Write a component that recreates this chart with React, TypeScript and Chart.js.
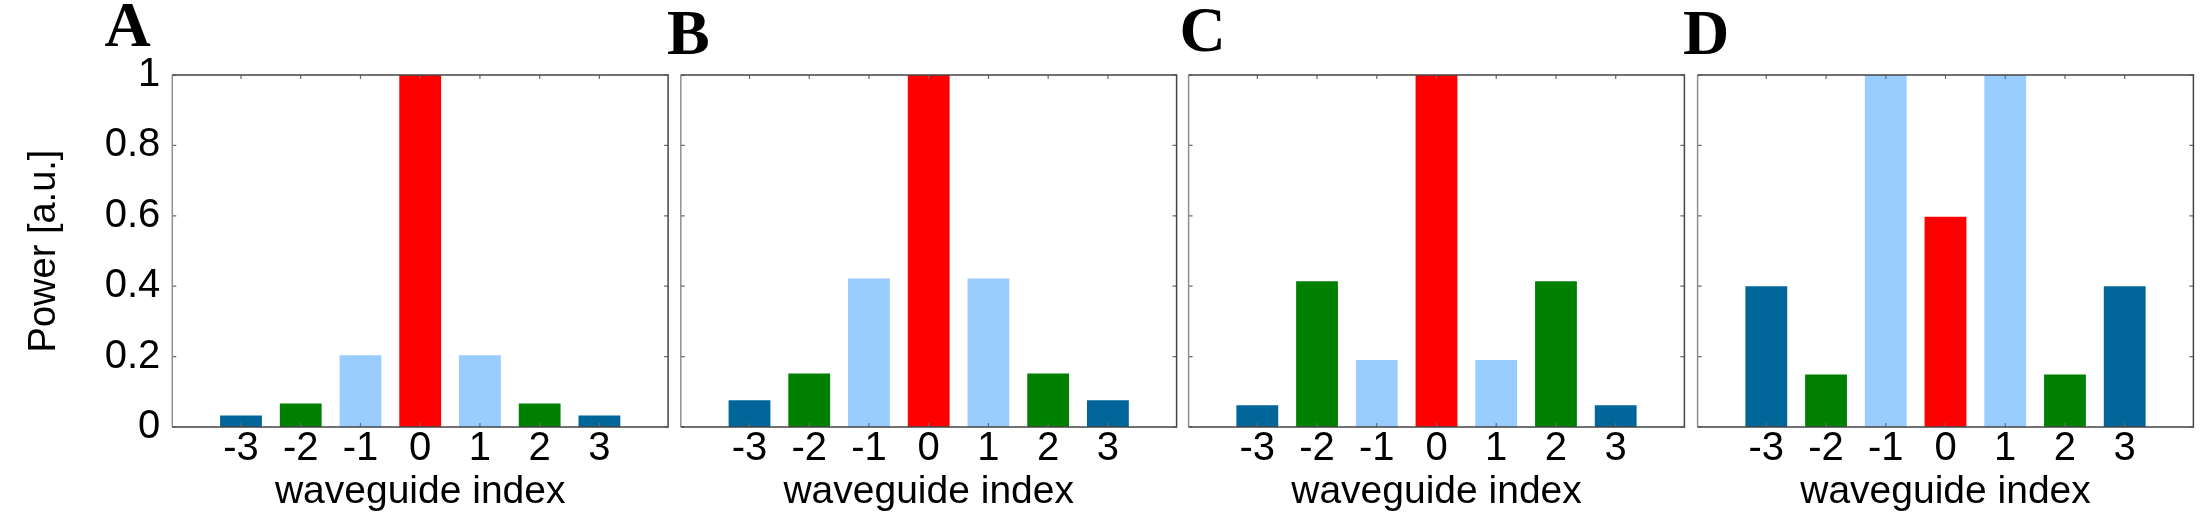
import React, { useEffect, useRef } from "react";
import { Chart, registerables } from "chart.js";

Chart.register(...registerables);

// ---- data ----
const waveguideIndex = [-3, -2, -1, 0, 1, 2, 3];
const xTickLabels = ["-3", "-2", "-1", "0", "1", "2", "3"];
const powerA = [0.033, 0.067, 0.204, 1, 0.204, 0.067, 0.033];
const powerB = [0.076, 0.152, 0.422, 1, 0.422, 0.152, 0.076];
const powerC = [0.062, 0.414, 0.19, 1, 0.19, 0.414, 0.062];
const powerD = [0.4, 0.149, 1, 0.597, 1, 0.149, 0.4];
const yTickValues = [0, 0.2, 0.4, 0.6, 0.8, 1];
const yTickLabels = ["0", "0.2", "0.4", "0.6", "0.8", "1"];
const barColors = ["#006699", "#008000", "#99ccff", "#ff0000", "#99ccff", "#008000", "#006699"];
const panelLetters = ["A", "B", "C", "D"];

// ---- layout ----
const W = 2209;
const H = 531;
const PLOT_TOP = 75;
const PLOT_BOTTOM = 427;
const PLOT_WIDTH = 495.8;
const X_MIN = -4.15;
const X_MAX = 4.15;
const SANS = "'Liberation Sans', Arial, Helvetica, sans-serif";

type PanelSpec = {
  letter: string;
  values: number[];
  canvasLeft: number;
  canvasWidth: number;
  plotLeft: number;
  showY: boolean;
  letterLeft: number;
  letterTop: number;
};

const panels: PanelSpec[] = [
  { letter: panelLetters[0], values: powerA, canvasLeft: 0, canvasWidth: 675, plotLeft: 172.3, showY: true, letterLeft: 104.5, letterTop: -6.6 },
  { letter: panelLetters[1], values: powerB, canvasLeft: 675, canvasWidth: 507, plotLeft: 680.8, showY: false, letterLeft: 667, letterTop: 1.2 },
  { letter: panelLetters[2], values: powerC, canvasLeft: 1182, canvasWidth: 508, plotLeft: 1188.6, showY: false, letterLeft: 1179.5, letterTop: -1.6 },
  { letter: panelLetters[3], values: powerD, canvasLeft: 1690, canvasWidth: 519, plotLeft: 1697.6, showY: false, letterLeft: 1683, letterTop: 0.8 },
];

const boxPlugin = {
  id: "matlabBox",
  afterDatasetsDraw(chart: any) {
    const { ctx, chartArea: a, scales } = chart;
    const xs = scales.x;
    const ys = scales.y;
    ctx.save();
    const len = 4;
    ctx.strokeStyle = "#6a6a6a";
    ctx.lineWidth = 1.2;
    ctx.beginPath();
    for (const v of waveguideIndex) {
      const px = xs.getPixelForValue(v);
      ctx.moveTo(px, a.bottom);
      ctx.lineTo(px, a.bottom - len);
      ctx.moveTo(px, a.top);
      ctx.lineTo(px, a.top + len);
    }
    for (const v of yTickValues) {
      const py = ys.getPixelForValue(v);
      ctx.moveTo(a.left, py);
      ctx.lineTo(a.left + len, py);
      ctx.moveTo(a.right, py);
      ctx.lineTo(a.right - len, py);
    }
    ctx.stroke();
    ctx.lineWidth = 1.5;
    // left edge lighter gray
    ctx.strokeStyle = "#8f8f8f";
    ctx.beginPath();
    ctx.moveTo(a.left, a.top);
    ctx.lineTo(a.left, a.bottom);
    ctx.stroke();
    // top, right, bottom darker
    ctx.strokeStyle = "#444444";
    ctx.beginPath();
    ctx.moveTo(a.left, a.top);
    ctx.lineTo(a.right, a.top);
    ctx.lineTo(a.right, a.bottom);
    ctx.lineTo(a.left, a.bottom);
    ctx.stroke();
    ctx.restore();
  },
};

function Panel({ spec }: { spec: PanelSpec }) {
  const ref = useRef<HTMLCanvasElement>(null);
  useEffect(() => {
    const canvas = ref.current;
    if (!canvas) return;
    const plotRight = spec.plotLeft + PLOT_WIDTH;
    const chart = new Chart(canvas, {
      type: "bar",
      data: {
        datasets: [
          {
            data: waveguideIndex.map((x, i) => ({ x, y: spec.values[i] })),
            backgroundColor: barColors,
            borderWidth: 0,
            barPercentage: 0.7,
            categoryPercentage: 1,
          } as any,
        ],
      },
      options: {
        responsive: false,
        animation: false,
        devicePixelRatio: 1,
        events: [],
        layout: {
          padding: {
            top: PLOT_TOP,
            bottom: 0,
            left: 0,
            right: spec.canvasLeft + spec.canvasWidth - plotRight,
          },
        },
        plugins: {
          legend: { display: false },
          tooltip: { enabled: false },
        },
        scales: {
          x: {
            type: "linear",
            min: X_MIN,
            max: X_MAX,
            offset: false,
            grid: { display: false, drawTicks: false },
            border: { display: false },
            afterBuildTicks: (axis: any) => {
              axis.ticks = waveguideIndex.map((v) => ({ value: v }));
            },
            afterFit: (axis: any) => {
              axis.height = H - PLOT_BOTTOM;
            },
            ticks: {
              autoSkip: false,
              maxRotation: 0,
              minRotation: 0,
              padding: 2,
              color: "#000",
              font: { family: SANS, size: 40, lineHeight: 1 },
              callback: (_v: any, i: number) => xTickLabels[i],
            },
            title: {
              display: true,
              text: "waveguide index",
              color: "#000",
              font: { family: SANS, size: 39 },
              padding: { top: 0, bottom: 15 },
            },
          },
          y: {
            display: spec.showY,
            min: 0,
            max: 1,
            grid: { display: false, drawTicks: false },
            border: { display: false },
            afterBuildTicks: (axis: any) => {
              axis.ticks = yTickValues.map((v) => ({ value: v }));
            },
            afterFit: (axis: any) => {
              axis.width = spec.plotLeft - spec.canvasLeft;
            },
            ticks: {
              autoSkip: false,
              padding: 12,
              color: "#000",
              font: { family: SANS, size: 40 },
              callback: (_v: any, i: number) => yTickLabels[i],
            },
            title: {
              display: true,
              text: "Power [a.u.]",
              color: "#000",
              font: { family: SANS, size: 38 },
              padding: { top: 22, bottom: 0 },
            },
          },
        },
      } as any,
      plugins: [boxPlugin],
    });
    return () => chart.destroy();
  }, [spec]);
  return (
    <canvas
      ref={ref}
      width={spec.canvasWidth}
      height={H}
      style={{ position: "absolute", left: spec.canvasLeft, top: 0, width: spec.canvasWidth, height: H }}
    />
  );
}

export default function App() {
  return (
    <div style={{ position: "absolute", left: 0, top: 0, width: W, height: H, background: "#fff", overflow: "hidden" }}>
      {panels.map((p) => (
        <Panel key={p.letter} spec={p} />
      ))}
      {panels.map((p) => (
        <div
          key={"L" + p.letter}
          style={{
            position: "absolute",
            left: p.letterLeft,
            top: p.letterTop,
            fontFamily: "'Liberation Serif', 'Times New Roman', serif",
            fontWeight: "bold",
            fontSize: 64,
            lineHeight: "64px",
            color: "#000",
          }}
        >
          {p.letter}
        </div>
      ))}
    </div>
  );
}
